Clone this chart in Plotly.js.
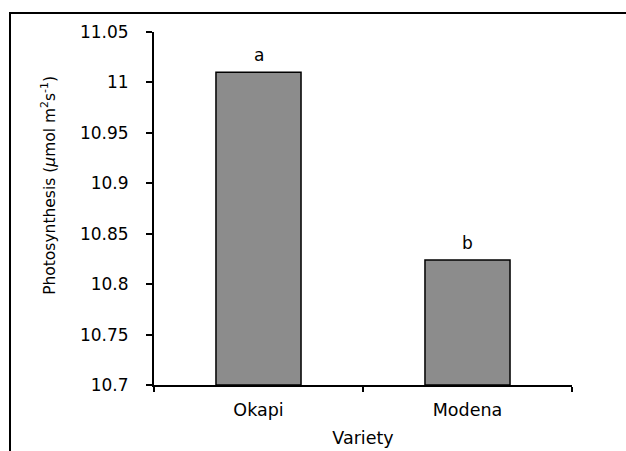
<!DOCTYPE html>
<html>
<head>
<meta charset="utf-8">
<script src="https://cdn.plot.ly/plotly-3.0.1.min.js"></script>
<style>
html,body{margin:0;padding:0;background:#fff;}
#wrap{position:relative;width:626px;height:451px;overflow:hidden;}
#frame{position:absolute;left:9px;top:12px;width:640px;height:460px;border-left:2px solid #000;border-top:2px solid #000;pointer-events:none;}
#chart{position:absolute;left:0;top:0;width:626px;height:451px;}
</style>
</head>
<body>
<div id="wrap">
<div id="chart"></div>
<div id="frame"></div>
</div>
<script>
const varieties = ["Okapi", "Modena"];
const photosynthesis = [11.01, 10.824];
const letters = ["a", "b"];
const yTickVals = [10.7, 10.75, 10.8, 10.85, 10.9, 10.95, 11, 11.05];
const yTickText = ["10.7", "10.75", "10.8", "10.85", "10.9", "10.95", "11", "11.05"];
const yTitle = "Photosynthesis (<i>µ</i>mol m<sup>2</sup>s<sup>-1</sup>)";
const xTitle = "Variety";
const yBase = 10.7;

const font = {family: "DejaVu Sans, Arial, sans-serif", color: "#000"};
const f = s => Object.assign({}, font, {size: s});

const trace = {
  type: "bar",
  x: varieties,
  y: photosynthesis.map(v => v - yBase),
  base: yBase,
  marker: {color: "#8c8c8c", line: {color: "#000", width: 1.5}},
  hoverinfo: "none"
};

const annotations = varieties.map((c, i) => ({
  x: c, y: photosynthesis[i], xref: "x", yref: "y",
  text: letters[i], showarrow: false, yanchor: "bottom", yshift: 5,
  font: f(17)
}));
annotations.push({
  xref: "paper", yref: "paper", x: -0.252, y: 0.566,
  xanchor: "center", yanchor: "middle", textangle: -90,
  text: yTitle, showarrow: false, font: f(15.5)
});

const layout = {
  width: 626, height: 451,
  margin: {l: 154, r: 54, t: 32, b: 66},
  paper_bgcolor: "#fff", plot_bgcolor: "#fff",
  showlegend: false,
  bargap: 0.593,
  font: font,
  xaxis: {
    type: "category",
    showline: true, linecolor: "#000", linewidth: 2,
    ticks: "outside", tickson: "boundaries", ticklen: 5, tickwidth: 2, tickcolor: "#000",
    tickfont: f(17.5),
    ticklabelstandoff: 8,
    showgrid: false, zeroline: false,
    title: {text: xTitle, font: f(17.5), standoff: 13}
  },
  yaxis: {
    range: [10.7, 11.05],
    tickvals: yTickVals, ticktext: yTickText,
    showline: true, linecolor: "#000", linewidth: 2,
    ticks: "outside", ticklen: 6, tickwidth: 2, tickcolor: "#000",
    ticklabelstandoff: 14,
    tickfont: f(17),
    showgrid: false, zeroline: false
  },
  annotations: annotations
};

Plotly.newPlot("chart", [trace], layout, {staticPlot: true});
</script>
</body>
</html>
